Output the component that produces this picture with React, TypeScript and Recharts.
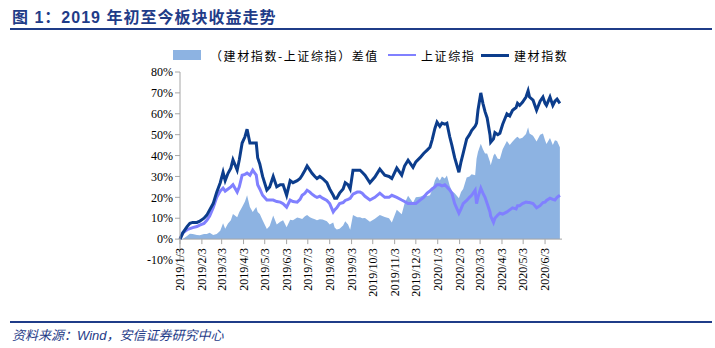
import { ComposedChart, Area, Line, XAxis, YAxis, ReferenceLine } from "recharts";

// days since 2019/1/3
const days = [
  0, 4, 10, 14, 18, 24, 28, 34, 38, 42,
  47, 52, 57, 61, 64, 68, 72, 75, 81, 84,
  88, 92, 95, 99, 103, 108, 110, 113, 117, 123,
  127, 132, 137, 142, 146, 151, 156, 160, 166, 170,
  173, 177, 180, 184, 187, 191, 194, 198, 202, 208,
  212, 217, 219, 222, 226, 231, 234, 238, 241, 245,
  251, 255, 258, 262, 269, 276, 283, 290, 296, 300,
  307, 314, 318, 323, 330, 334, 340, 345, 350, 354,
  357, 361, 364, 368, 371, 375, 378, 382, 385, 389,
  395, 398, 401, 406, 410, 413, 418, 420, 422, 426,
  429, 432, 435, 439, 440, 444, 446, 450, 453, 457,
  463, 467, 471, 476, 478, 481, 485, 490, 493, 495,
  500, 505, 510, 514, 517, 519, 524, 528, 531, 534,
  538,
];

// 建材指数 (%)
const buildingMaterials = [
  0, 3, 6, 7.6, 8, 8, 8.6, 10, 11.5, 14,
  17, 22.5, 27, 32, 28, 31.5, 34, 38, 33, 38,
  46, 49, 52.6, 46, 46, 46, 39, 36, 30, 23.5,
  25, 30, 25, 26, 26, 21, 28, 27, 28, 29,
  30.6, 33, 35, 33, 31.5, 30, 29, 30, 29, 27,
  24, 21, 19.6, 19.6, 22, 24, 27, 26, 24, 33,
  33, 33, 32, 30.6, 27, 29.7, 33.5, 30.6, 30, 29,
  34, 30.6, 35, 37.8, 34.4, 37, 39, 41, 42.6, 44,
  47.4, 53, 56, 54, 55.5, 55, 55.5, 49, 45, 39,
  32, 37, 41, 48, 50, 52, 54, 55.5, 61.7, 70,
  65, 61, 58, 50, 46.4, 48, 51, 50, 50.7, 55,
  60, 59, 61.7, 63, 65, 64, 65.5, 68, 71, 68,
  66.5, 61.7, 66, 68, 65, 64, 68, 64, 66, 67,
  65,
];

// 上证综指 (%)
const shanghaiComposite = [
  0, 3, 4.5, 5, 5.5, 6, 6.7, 7.5, 9, 11,
  15, 20, 23, 24.4, 23, 24, 25, 26, 22.5, 25,
  30.6, 31, 31.6, 30.6, 33, 30.6, 26, 24, 21, 18.7,
  18.7, 18.7, 18, 17.7, 17, 15.3, 18.7, 18, 17.7, 19,
  21, 22, 23.4, 22.5, 21.5, 20.5, 20, 20.5, 19.6, 18.5,
  17, 13, 14, 15, 17, 17.5, 18.5, 19, 19.5, 21.5,
  22.5, 22.5, 22, 20.5, 18.7, 20, 22, 20, 20, 21,
  20, 18.7, 18, 17, 17, 17, 18.7, 20, 22, 23,
  24, 25, 26, 26, 25.5, 26, 25, 23.5, 22, 17,
  12.4, 14.5, 17, 18.5, 20, 21, 23.4, 17, 20, 24.4,
  22, 20, 17, 13, 11, 8, 10, 11.5, 12.4, 12,
  13, 14, 15, 14.5, 16, 16, 17, 17.7, 17.5, 17.5,
  17, 15, 16, 17.5, 17.7, 18.5, 19.6, 19, 18.7, 20,
  21,
];

const xTickLabels = [
  "2019/1/3", "2019/2/3", "2019/3/3", "2019/4/3", "2019/5/3", "2019/6/3",
  "2019/7/3", "2019/8/3", "2019/9/3", "2019/10/3", "2019/11/3", "2019/12/3",
  "2020/1/3", "2020/2/3", "2020/3/3", "2020/4/3", "2020/5/3", "2020/6/3",
];

const yTicks = [-10, 0, 10, 20, 30, 40, 50, 60, 70, 80];

const toDay = (label: string) => {
  const [y, m, d] = label.split("/").map(Number);
  return Math.round((Date.UTC(y, m - 1, d) - Date.UTC(2019, 0, 3)) / 86400000);
};

const xTicks = xTickLabels.map(toDay);

const data = days.map((t, i) => ({
  t,
  bm: buildingMaterials[i],
  sse: shanghaiComposite[i],
  diff: +(buildingMaterials[i] - shanghaiComposite[i]).toFixed(1),
}));

const PLOT_TOP = 72;
const PLOT_H = 188;
const ZERO_Y = PLOT_TOP + (PLOT_H * 80) / 90;

const AREA_COLOR = "#8DB3E2";
const SSE_COLOR = "#8080FF";
const BM_COLOR = "#0C3D8C";
const AXIS_COLOR = "#A6A6A6";
const NAVY = "#1F3C88";

function XTick(props: any) {
  const { x, payload } = props;
  const idx = xTicks.indexOf(payload.value);
  const label = idx >= 0 ? xTickLabels[idx] : "";
  const ty = ZERO_Y + 9;
  return (
    <g>
      <line x1={x} x2={x} y1={ZERO_Y} y2={ZERO_Y + 5} stroke={AXIS_COLOR} />
      <text
        x={x}
        y={ty}
        transform={`rotate(-90 ${x} ${ty})`}
        textAnchor="end"
        dy="0.35em"
        fontSize={12}
        fontFamily="'Liberation Serif', serif"
        fill="#000"
      >
        {label}
      </text>
    </g>
  );
}

const legendText: React.CSSProperties = {
  position: "absolute",
  top: 47,
  fontSize: 12,
  letterSpacing: 1.6,
  fontFamily: "'Noto Sans CJK SC', sans-serif",
  color: "#000",
  whiteSpace: "nowrap",
};

export default function App() {
  return (
    <div style={{ position: "absolute", left: 0, top: 0, width: 715, height: 348, background: "#fff" }}>
      <div
        style={{
          position: "absolute",
          left: 12,
          top: 4,
          fontSize: 16,
          fontWeight: "bold",
          letterSpacing: 1,
          color: NAVY,
          fontFamily: "'Liberation Sans', 'Noto Sans CJK SC', sans-serif",
          whiteSpace: "nowrap",
        }}
      >
        图 1：2019 年初至今板块收益走势
      </div>
      <div style={{ position: "absolute", left: 10, top: 28, width: 702, height: 2, background: NAVY }} />

      {/* legend */}
      <div style={{ position: "absolute", left: 173, top: 50, width: 28, height: 10, background: AREA_COLOR }} />
      <div style={{ ...legendText, left: 210 }}>（建材指数-上证综指）差值</div>
      <div style={{ position: "absolute", left: 388, top: 54, width: 28, height: 2, background: SSE_COLOR }} />
      <div style={{ ...legendText, left: 421 }}>上证综指</div>
      <div style={{ position: "absolute", left: 481, top: 54, width: 28, height: 2.5, background: BM_COLOR }} />
      <div style={{ ...legendText, left: 514 }}>建材指数</div>

      <div style={{ position: "absolute", left: 0, top: 0 }}>
        <ComposedChart
          width={715}
          height={348}
          data={data}
          margin={{ top: PLOT_TOP, right: 153, bottom: 58, left: 130 }}
        >
          <XAxis
            dataKey="t"
            type="number"
            domain={[0, 541]}
            ticks={xTicks}
            interval={0}
            axisLine={false}
            tickLine={false}
            tick={<XTick />}
            height={30}
          />
          <YAxis
            type="number"
            domain={[-10, 80]}
            ticks={yTicks}
            interval={0}
            width={50}
            tickSize={5}
            tickMargin={2}
            tickFormatter={(v: number) => `${v}%`}
            axisLine={{ stroke: AXIS_COLOR }}
            tickLine={{ stroke: AXIS_COLOR }}
            tick={{ fontSize: 12, fill: "#000", fontFamily: "'Liberation Serif', serif" }}
            allowDataOverflow
          />
          <Area
            dataKey="diff"
            type="linear"
            fill={AREA_COLOR}
            fillOpacity={1}
            stroke="none"
            baseValue={0}
            isAnimationActive={false}
          />
          <ReferenceLine y={0} stroke={AXIS_COLOR} />
          <Line dataKey="sse" type="linear" stroke={SSE_COLOR} strokeWidth={3} dot={false} isAnimationActive={false} />
          <Line dataKey="bm" type="linear" stroke={BM_COLOR} strokeWidth={3} dot={false} isAnimationActive={false} />
        </ComposedChart>
      </div>

      <div style={{ position: "absolute", left: 10, top: 321, width: 702, height: 1.5, background: NAVY }} />
      <div
        style={{
          position: "absolute",
          left: 12,
          top: 325,
          fontSize: 13,
          fontStyle: "italic",
          color: NAVY,
          fontFamily: "'Liberation Sans', 'Noto Sans CJK SC', sans-serif",
          whiteSpace: "nowrap",
        }}
      >
        资料来源：Wind，安信证券研究中心
      </div>
    </div>
  );
}
